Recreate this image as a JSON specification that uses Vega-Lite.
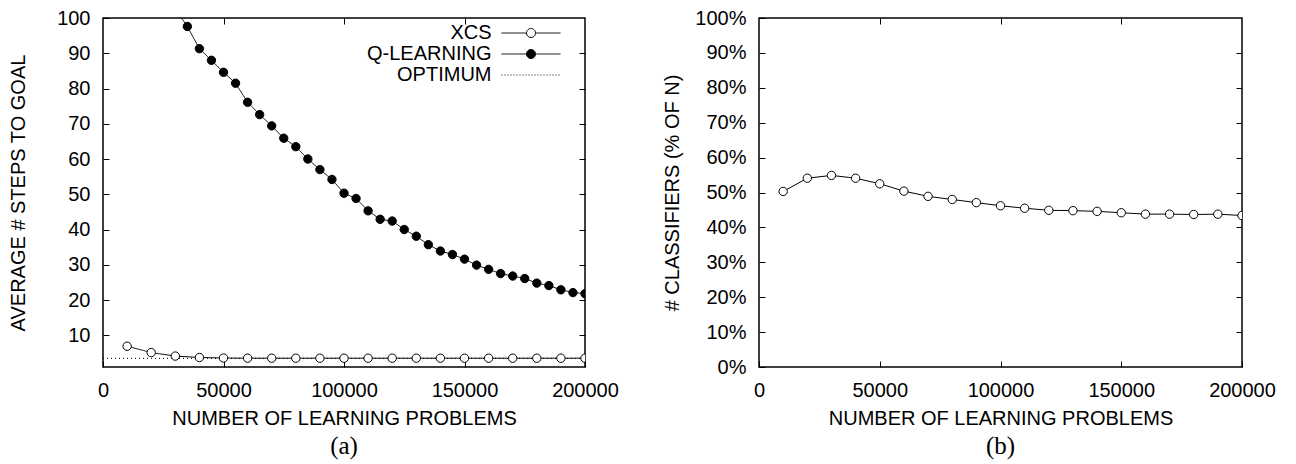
{
  "$schema": "https://vega.github.io/schema/vega-lite/v6.json",
  "padding": {"left": 7, "top": 7, "right": 0, "bottom": 0},
  "background": "white",
  "datasets": {
    "a": [
      {"series": "XCS", "x": 10000, "y": 6.9},
      {"series": "XCS", "x": 20000, "y": 5.1},
      {"series": "XCS", "x": 30000, "y": 4.1},
      {"series": "XCS", "x": 40000, "y": 3.7},
      {"series": "XCS", "x": 50000, "y": 3.55},
      {"series": "XCS", "x": 60000, "y": 3.5},
      {"series": "XCS", "x": 70000, "y": 3.5},
      {"series": "XCS", "x": 80000, "y": 3.5},
      {"series": "XCS", "x": 90000, "y": 3.5},
      {"series": "XCS", "x": 100000, "y": 3.5},
      {"series": "XCS", "x": 110000, "y": 3.5},
      {"series": "XCS", "x": 120000, "y": 3.5},
      {"series": "XCS", "x": 130000, "y": 3.5},
      {"series": "XCS", "x": 140000, "y": 3.5},
      {"series": "XCS", "x": 150000, "y": 3.5},
      {"series": "XCS", "x": 160000, "y": 3.5},
      {"series": "XCS", "x": 170000, "y": 3.5},
      {"series": "XCS", "x": 180000, "y": 3.5},
      {"series": "XCS", "x": 190000, "y": 3.5},
      {"series": "XCS", "x": 200000, "y": 3.5},
      {"series": "Q-LEARNING", "x": 30000, "y": 102.6},
      {"series": "Q-LEARNING", "x": 35000, "y": 97.6},
      {"series": "Q-LEARNING", "x": 40000, "y": 91.3},
      {"series": "Q-LEARNING", "x": 45000, "y": 88.0},
      {"series": "Q-LEARNING", "x": 50000, "y": 84.6},
      {"series": "Q-LEARNING", "x": 55000, "y": 81.5},
      {"series": "Q-LEARNING", "x": 60000, "y": 76.1},
      {"series": "Q-LEARNING", "x": 65000, "y": 72.6},
      {"series": "Q-LEARNING", "x": 70000, "y": 69.4},
      {"series": "Q-LEARNING", "x": 75000, "y": 65.9},
      {"series": "Q-LEARNING", "x": 80000, "y": 63.5},
      {"series": "Q-LEARNING", "x": 85000, "y": 60.0},
      {"series": "Q-LEARNING", "x": 90000, "y": 57.0},
      {"series": "Q-LEARNING", "x": 95000, "y": 54.2},
      {"series": "Q-LEARNING", "x": 100000, "y": 50.3},
      {"series": "Q-LEARNING", "x": 105000, "y": 48.8},
      {"series": "Q-LEARNING", "x": 110000, "y": 45.3},
      {"series": "Q-LEARNING", "x": 115000, "y": 42.9},
      {"series": "Q-LEARNING", "x": 120000, "y": 42.4},
      {"series": "Q-LEARNING", "x": 125000, "y": 40.0},
      {"series": "Q-LEARNING", "x": 130000, "y": 38.1},
      {"series": "Q-LEARNING", "x": 135000, "y": 35.7},
      {"series": "Q-LEARNING", "x": 140000, "y": 33.9},
      {"series": "Q-LEARNING", "x": 145000, "y": 32.9},
      {"series": "Q-LEARNING", "x": 150000, "y": 31.6},
      {"series": "Q-LEARNING", "x": 155000, "y": 29.9},
      {"series": "Q-LEARNING", "x": 160000, "y": 28.7},
      {"series": "Q-LEARNING", "x": 165000, "y": 27.5},
      {"series": "Q-LEARNING", "x": 170000, "y": 26.8},
      {"series": "Q-LEARNING", "x": 175000, "y": 26.1},
      {"series": "Q-LEARNING", "x": 180000, "y": 24.8},
      {"series": "Q-LEARNING", "x": 185000, "y": 24.1},
      {"series": "Q-LEARNING", "x": 190000, "y": 22.9},
      {"series": "Q-LEARNING", "x": 195000, "y": 22.1},
      {"series": "Q-LEARNING", "x": 200000, "y": 21.8},
      {"series": "OPTIMUM", "x": 0, "y": 3.45},
      {"series": "OPTIMUM", "x": 200000, "y": 3.45}
    ],
    "b": [
      {"x": 10000, "y": 0.503},
      {"x": 20000, "y": 0.541},
      {"x": 30000, "y": 0.549},
      {"x": 40000, "y": 0.541},
      {"x": 50000, "y": 0.525},
      {"x": 60000, "y": 0.504},
      {"x": 70000, "y": 0.489},
      {"x": 80000, "y": 0.480},
      {"x": 90000, "y": 0.471},
      {"x": 100000, "y": 0.462},
      {"x": 110000, "y": 0.455},
      {"x": 120000, "y": 0.449},
      {"x": 130000, "y": 0.448},
      {"x": 140000, "y": 0.446},
      {"x": 150000, "y": 0.442},
      {"x": 160000, "y": 0.438},
      {"x": 170000, "y": 0.438},
      {"x": 180000, "y": 0.437},
      {"x": 190000, "y": 0.438},
      {"x": 200000, "y": 0.434}
    ]
  },
  "spacing": 42,
  "hconcat": [
    {
      "width": 482,
      "height": 349,
      "title": {"text": "(a)", "orient": "bottom", "font": "Liberation Serif", "fontSize": 25, "fontWeight": "normal", "color": "black", "offset": 6},
      "data": {"name": "a"},
      "layer": [
        {
          "mark": {"type": "line", "color": "black", "strokeWidth": 1, "clip": true},
          "encoding": {
            "x": {"field": "x", "type": "quantitative", "scale": {"domain": [0, 200000], "nice": false, "zero": false},
                  "axis": {"orient": "top", "labels": false, "title": null, "values": [50000, 100000, 150000], "offset": -6}},
            "y": {"field": "y", "type": "quantitative", "scale": {"domain": [1, 100], "nice": false, "zero": false},
                  "axis": {"orient": "right", "labels": false, "title": null, "values": [10, 20, 30, 40, 50, 60, 70, 80, 90], "offset": -6}},
            "detail": {"field": "series", "type": "nominal"},
            "strokeDash": {"condition": {"test": "datum.series === 'OPTIMUM'", "value": [1, 3]}, "value": [1, 0]}
          }
        },
        {
          "transform": [{"filter": "datum.series != 'OPTIMUM'"}],
          "mark": {"type": "point", "shape": "circle", "filled": true, "size": 70, "stroke": "black", "strokeWidth": 1, "opacity": 1, "clip": true},
          "encoding": {
            "x": {"field": "x", "type": "quantitative", "scale": {"domain": [0, 200000], "nice": false, "zero": false},
                  "axis": {"orient": "bottom", "offset": -6, "title": "NUMBER OF LEARNING PROBLEMS", "values": [0, 50000, 100000, 150000, 200000], "format": "d", "labelFlush": false, "labelPadding": 13, "titlePadding": 8}},
            "y": {"field": "y", "type": "quantitative", "scale": {"domain": [1, 100], "nice": false, "zero": false},
                  "axis": {"orient": "left", "offset": -6, "title": "AVERAGE # STEPS TO GOAL", "values": [10, 20, 30, 40, 50, 60, 70, 80, 90, 100], "labelPadding": 13, "titlePadding": 28}},
            "fill": {"field": "series", "type": "nominal",
                     "scale": {"domain": ["XCS", "Q-LEARNING", "OPTIMUM"], "range": ["white", "black", "white"]},
                     "legend": {
                       "title": null, "orient": "none", "legendX": 418, "legendY": 5,
                       "labelFontSize": 20, "labelColor": "black", "labelAlign": "right", "labelOffset": -49.5, "labelLimit": 300,
                       "symbolSize": 100, "rowPadding": 1, "padding": 0,
                       "symbolType": {"expr": "datum.value === 'XCS' ? 'M-5.9,0H-0.9M0.9,0H5.9M-0.9,0A0.9,0.9,0,1,0,0.9,0A0.9,0.9,0,1,0,-0.9,0' : (datum.value === 'Q-LEARNING' ? 'M-5.9,0H5.9M-0.9,0A0.9,0.9,0,1,0,0.9,0A0.9,0.9,0,1,0,-0.9,0' : 'M-5.9,0H5.9')"},
                       "symbolDash": {"expr": "datum.value === 'OPTIMUM' ? [1, 2] : [1, 0]"},
                       "symbolStrokeColor": "black",
                       "symbolStrokeWidth": 1,
                       "symbolOpacity": 1
                     }}
          }
        }
      ],
      "resolve": {"scale": {"x": "independent", "y": "independent"}}
    },
    {
      "width": 483,
      "height": 349,
      "title": {"text": "(b)", "orient": "bottom", "font": "Liberation Serif", "fontSize": 25, "fontWeight": "normal", "color": "black", "offset": 6},
      "data": {"name": "b"},
      "layer": [
        {
          "mark": {"type": "line", "color": "black", "strokeWidth": 1, "clip": true},
          "encoding": {
            "x": {"field": "x", "type": "quantitative", "scale": {"domain": [0, 200000], "nice": false, "zero": false},
                  "axis": {"orient": "top", "labels": false, "title": null, "values": [50000, 100000, 150000], "offset": -6}},
            "y": {"field": "y", "type": "quantitative", "scale": {"domain": [0, 1], "nice": false, "zero": false},
                  "axis": {"orient": "right", "labels": false, "title": null, "values": [0.1, 0.2, 0.3, 0.4, 0.5, 0.6, 0.7, 0.8, 0.9], "offset": -6}}
          }
        },
        {
          "mark": {"type": "point", "shape": "circle", "filled": true, "size": 70, "fill": "white", "stroke": "black", "strokeWidth": 1, "opacity": 1, "clip": true},
          "encoding": {
            "x": {"field": "x", "type": "quantitative", "scale": {"domain": [0, 200000], "nice": false, "zero": false},
                  "axis": {"orient": "bottom", "offset": -6, "title": "NUMBER OF LEARNING PROBLEMS", "values": [0, 50000, 100000, 150000, 200000], "format": "d", "labelFlush": false, "labelPadding": 13, "titlePadding": 8}},
            "y": {"field": "y", "type": "quantitative", "scale": {"domain": [0, 1], "nice": false, "zero": false},
                  "axis": {"orient": "left", "offset": -6, "title": "# CLASSIFIERS (% OF N)", "values": [0, 0.1, 0.2, 0.3, 0.4, 0.5, 0.6, 0.7, 0.8, 0.9, 1], "format": ".0%", "labelPadding": 13, "titlePadding": 12}}
          }
        }
      ],
      "resolve": {"scale": {"x": "independent", "y": "independent"}}
    }
  ],
  "config": {
    "font": "Liberation Sans",
    "view": {"stroke": "black", "strokeWidth": 1.5},
    "axis": {
      "domain": false, "grid": false,
      "tickSize": 6, "tickColor": "black", "tickWidth": 1,
      "labelFontSize": 20, "labelColor": "black",
      "titleFontSize": 20, "titleFontWeight": "normal", "titleColor": "black"
    }
  }
}
